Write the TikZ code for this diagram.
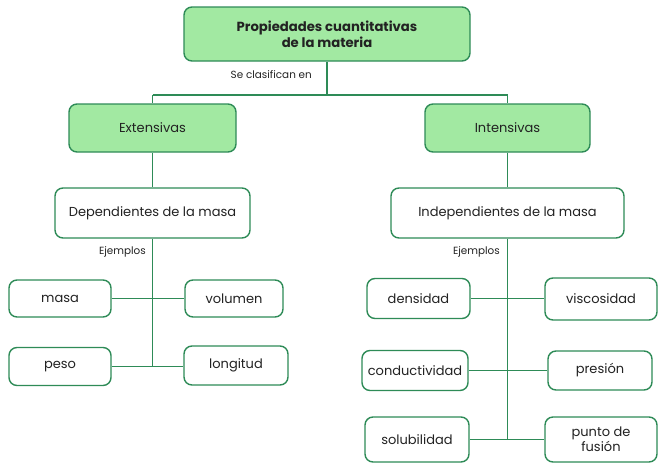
\documentclass[tikz,border=0pt]{standalone}
\usepackage{fontspec}
\setmainfont{Poppins}
\definecolor{bordgreen}{HTML}{2E8B57}
\definecolor{fillgreen}{HTML}{A2E9A2}
\definecolor{txt}{HTML}{222222}
\begin{document}
\begin{tikzpicture}[x=1pt,y=-1pt,
  box/.style={draw=bordgreen,line width=1.4pt,rounded corners=8pt,fill=white,
    inner sep=0pt,align=center,text=txt,font=\fontsize{13}{16}\selectfont},
  gbox/.style={box,fill=fillgreen},
  conn/.style={draw=bordgreen,line width=1.1pt},
  lbl/.style={font=\fontsize{10.4}{12}\selectfont,text=txt,inner sep=0pt}]
\useasboundingbox (0,0) rectangle (668,471);
\node[gbox,minimum width=286pt,minimum height=54pt,font=\fontsize{13.2}{16}\selectfont\bfseries] (top) at (327,34) {Propiedades cuantitativas\\de la materia};
\node[gbox,minimum width=167pt,minimum height=48pt] (ext) at (152.5,128) {Extensivas};
\node[gbox,minimum width=165pt,minimum height=48pt] (int) at (507.5,128) {Intensivas};
\node[box,minimum width=195pt,minimum height=50pt] (dep) at (152.5,213) {Dependientes de la masa};
\node[box,minimum width=233pt,minimum height=50pt] (ind) at (507.5,213) {Independientes de la masa};
\node[box,minimum width=102pt,minimum height=37pt] (masa) at (60,298.5) {masa};
\node[box,minimum width=98pt,minimum height=37pt] (vol) at (234,298.5) {volumen};
\node[box,minimum width=102pt,minimum height=38pt] (peso) at (60,366.5) {peso};
\node[box,minimum width=104pt,minimum height=39pt] (lon) at (236,365.5) {longitud};
\node[box,minimum width=103pt,minimum height=40pt] (den) at (418.5,298.5) {densidad};
\node[box,minimum width=112pt,minimum height=42pt] (vis) at (601,299) {viscosidad};
\node[box,minimum width=106pt,minimum height=40pt] (con) at (415,370.5) {conductividad};
\node[box,minimum width=104pt,minimum height=39pt] (pre) at (600,370.5) {presión};
\node[box,minimum width=104pt,minimum height=45pt] (sol) at (417,439.5) {solubilidad};
\node[box,minimum width=112pt,minimum height=45pt,font=\fontsize{13}{15}\selectfont] (pun) at (601,439.5) {punto de\\fusión};
\node[lbl,anchor=east] (secl) at (312,75) {Se clasifican en};
\node[lbl,anchor=east] (ej1) at (146,252) {Ejemplos};
\node[lbl,anchor=east] (ej2) at (500,252) {Ejemplos};
\coordinate (split) at (327,95);
\coordinate (sl) at (152.5,95);
\coordinate (sr) at (507.5,95);
\coordinate (dend) at (152.5,366.5);
\coordinate (iend) at (507.5,439.5);
\draw[conn] (top.south) -- (split);
\draw[conn] (sl) -- (sr);
\draw[conn] (sl) -- (ext.north);
\draw[conn] (sr) -- (int.north);
\draw[conn] (ext.south) -- (dep.north);
\draw[conn] (int.south) -- (ind.north);
\draw[conn] (dep.south) -- (dend);
\draw[conn] (ind.south) -- (iend);
\draw[conn] (masa.east) -- (vol.west);
\draw[conn] (peso.east) -- (peso.east -| lon.west);
\draw[conn] (den.east) -- (den.east -| vis.west);
\draw[conn] (con.east) -- (con.east -| pre.west);
\draw[conn] (sol.east) -- (sol.east -| pun.west);
\end{tikzpicture}
\end{document}
